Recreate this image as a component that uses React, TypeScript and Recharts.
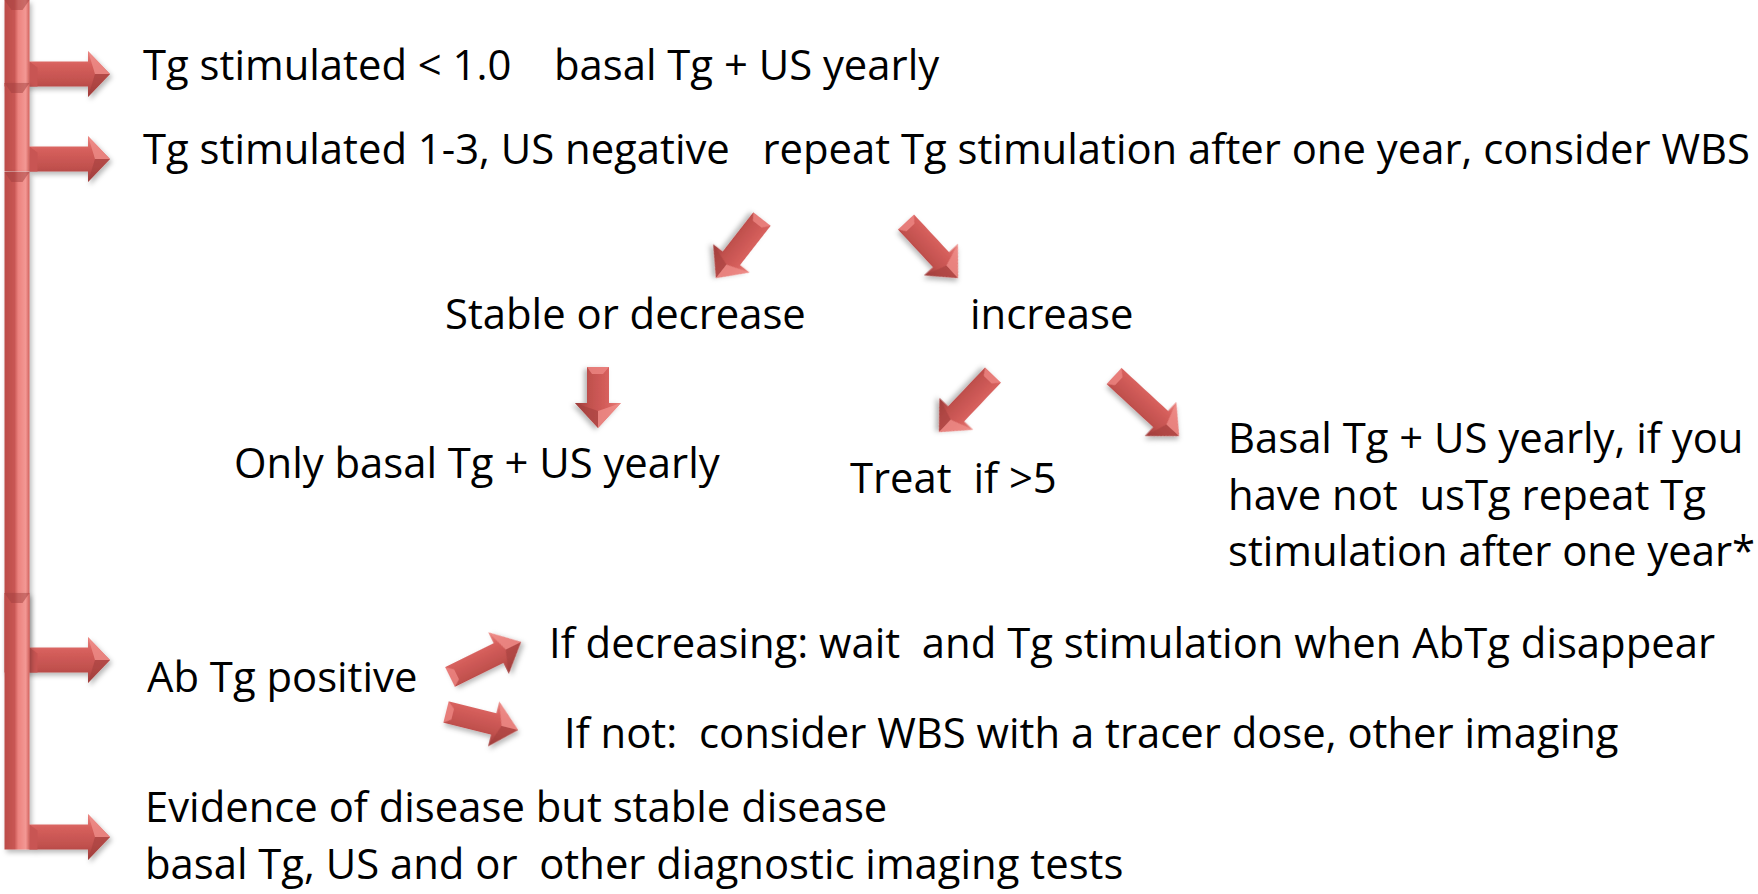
import React from "react";
import { ScatterChart, Scatter, XAxis, YAxis, ReferenceLine } from "recharts";

const CHART_W = 1758;
const CHART_H = 894;
const FONT = "'Open Sans', Lato, sans-serif";
const FONT_SIZE = 41.8;
const LINE_GAP = 56.5;

// text blocks (left edge, first baseline) in layout units
const labelLines: string[][] = [
  ["Tg stimulated < 1.0"],
  ["basal Tg + US yearly"],
  ["Tg stimulated 1-3, US negative   repeat Tg stimulation after one year, consider WBS"],
  ["Stable or decrease"],
  ["increase"],
  ["Only basal Tg + US yearly"],
  ["Treat  if >5"],
  ["Basal Tg + US yearly, if you", "have not  usTg repeat Tg", "stimulation after one year*"],
  ["Ab Tg positive"],
  ["If decreasing: wait  and Tg stimulation when AbTg disappear"],
  ["If not:  consider WBS with a tracer dose, other imaging"],
  ["Evidence of disease but stable disease", "basal Tg, US and or  other diagnostic imaging tests"],
];
const labelX = [143, 554, 143, 445, 970, 234, 850, 1228, 147, 549, 564, 145];
const labelY = [80, 80, 164, 329, 329, 478, 493, 453, 692, 658, 748, 822];

// the branching bar on the left
const branchY = [74, 159, 660, 837];
const elbowTop = [0, 83, 172, 593];
const barX = 17;
const branchTipX = 110;

// free arrows: tail -> tip
const arrowFrom: [number, number][] = [
  [762, 219], [906, 222], [598, 367], [993, 375], [1114, 376], [450, 677], [446, 712],
];
const arrowTo: [number, number][] = [
  [716, 278], [958, 278], [598, 428], [939, 432], [1179, 436], [521, 642], [518, 730],
];

const labels = labelLines.map((lines, i) => ({ x: labelX[i], y: labelY[i], lines }));

function TextBlock(props: any) {
  const { cx, cy, payload } = props;
  if (cx == null || cy == null) return null;
  return (
    <text
      x={cx}
      y={cy}
      fontFamily={FONT}
      fontSize={FONT_SIZE}
      fill="#000"
      style={{ whiteSpace: "pre" }}
    >
      {payload.lines.map((t: string, i: number) => (
        <tspan key={i} x={cx} dy={i === 0 ? 0 : LINE_GAP}>
          {t}
        </tspan>
      ))}
    </text>
  );
}

function Elbow(props: any) {
  const { x1, y1, x2, y2 } = props;
  const half = 12.5;
  const head = 23;
  const headLen = 22;
  const left = x1 - half;
  const right = x1 + half;
  const neck = x2 - headLen;
  return (
    <g filter="url(#dropShadow)">
      <rect x={left} y={y1} width={half * 2} height={y2 + half - y1} fill="url(#barFill)" />
      <polygon
        points={`${left},${y1} ${right},${y1} ${right - 7},${y1 + 10} ${left + 7},${y1 + 10}`}
        fill="#A23F3D"
        opacity={0.5}
      />
      <polygon
        points={`${right},${y2 - half} ${neck},${y2 - half} ${neck},${y2 - head} ${x2},${y2} ${neck},${y2 + head} ${neck},${y2 + half} ${right},${y2 + half}`}
        fill="url(#shaftFill)"
      />
      <polygon points={`${right},${y2 - half} ${right + 8},${y2 - half + 6} ${right + 8},${y2 + half}  ${right},${y2 + half}`} fill="#C85552" />
      <polygon points={`${neck},${y2 - head} ${x2},${y2} ${neck + 7},${y2}`} fill="#F0908C" opacity={0.75} />
      <polygon points={`${neck},${y2 + head} ${x2},${y2} ${neck + 7},${y2}`} fill="#A43F3D" opacity={0.6} />
    </g>
  );
}

function BlockArrow(props: any) {
  const { x1, y1, x2, y2 } = props;
  const shaft = 11;
  const head = 23;
  const headLen = 25;
  const len = Math.hypot(x2 - x1, y2 - y1);
  const ang = (Math.atan2(y2 - y1, x2 - x1) * 180) / Math.PI;
  const b = len - headLen;
  const outline = `0,${-shaft} ${b},${-shaft} ${b},${-head} ${len},0 ${b},${head} ${b},${shaft} 0,${shaft}`;
  return (
    <g transform={`translate(${x1},${y1}) rotate(${ang})`} filter="url(#dropShadow)">
      <polygon points={outline} fill="url(#shaftFill)" />
      <polygon points={`0,${-shaft} 7,${-shaft + 6} 7,${shaft - 5} 0,${shaft}`} fill="#EE8783" opacity={0.8} />
      <polygon points={`${b},${-head} ${len},0 ${b + 8},0`} fill="#F0908C" opacity={0.75} />
      <polygon points={`${b},${head} ${len},0 ${b + 8},0`} fill="#A43F3D" opacity={0.6} />
    </g>
  );
}

export default function App() {
  return (
    <div style={{ position: "absolute", left: 0, top: 0, background: "#fff" }}>
      <ScatterChart
        width={CHART_W}
        height={CHART_H}
        margin={{ top: 0, right: 0, bottom: 0, left: 0 }}
      >
        <defs>
          <linearGradient id="barFill" x1="0" y1="0" x2="1" y2="0">
            <stop offset="0" stopColor="#BC4C49" />
            <stop offset="0.4" stopColor="#C85653" />
            <stop offset="0.55" stopColor="#EC837F" />
            <stop offset="0.85" stopColor="#F39894" />
            <stop offset="1" stopColor="#D0605C" />
          </linearGradient>
          <linearGradient id="shaftFill" x1="0" y1="0" x2="0" y2="1">
            <stop offset="0" stopColor="#E9847F" />
            <stop offset="0.3" stopColor="#D65F5C" />
            <stop offset="0.7" stopColor="#C0504D" />
            <stop offset="1" stopColor="#9C3C3A" />
          </linearGradient>
          <filter id="dropShadow" x="-30%" y="-30%" width="160%" height="160%">
            <feDropShadow dx="2" dy="3" stdDeviation="2.5" floodColor="#000" floodOpacity="0.28" />
          </filter>
        </defs>
        <XAxis type="number" dataKey="x" domain={[0, CHART_W]} hide allowDataOverflow />
        <YAxis type="number" dataKey="y" domain={[0, CHART_H]} reversed hide allowDataOverflow />
        {branchY.map((by, i) => (
          <ReferenceLine
            key={`elbow-${i}`}
            segment={[{ x: barX, y: elbowTop[i] }, { x: branchTipX, y: by }]}
            ifOverflow="visible"
            shape={(p: any) => <Elbow {...p} />}
          />
        ))}
        {arrowFrom.map((from, i) => (
          <ReferenceLine
            key={`arrow-${i}`}
            segment={[{ x: from[0], y: from[1] }, { x: arrowTo[i][0], y: arrowTo[i][1] }]}
            ifOverflow="visible"
            shape={(p: any) => <BlockArrow {...p} />}
          />
        ))}
        <Scatter
          data={labels}
          isAnimationActive={false}
          shape={(p: any) => <TextBlock {...p} />}
        />
      </ScatterChart>
    </div>
  );
}
